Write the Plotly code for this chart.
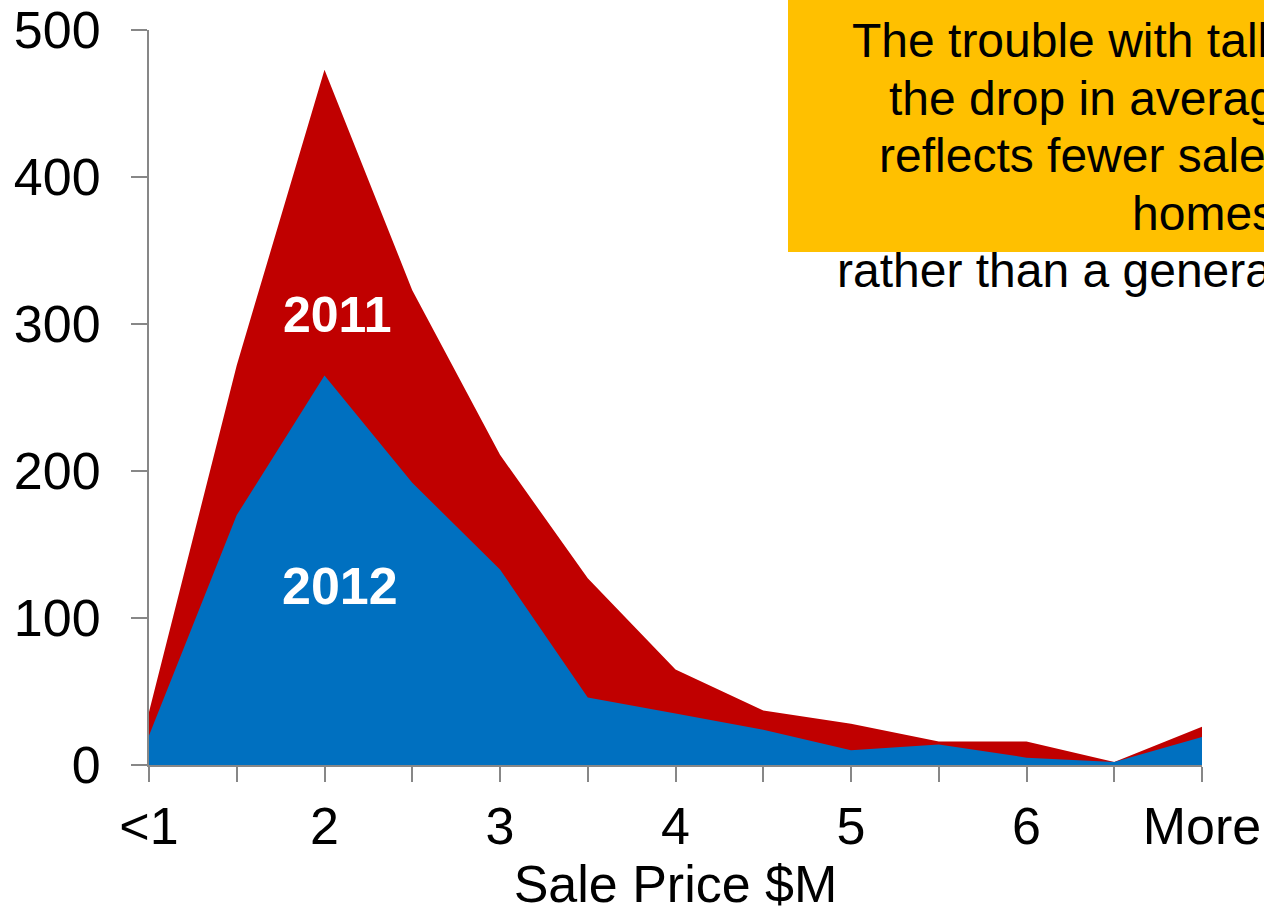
import plotly.graph_objects as go

categories = ["<1", "", "2", "", "3", "", "4", "", "5", "", "6", "", "More"]
sales_2011 = [36, 272, 473, 323, 211, 127, 65, 37, 28, 16, 16, 2, 26]
sales_2012 = [20, 170, 265, 192, 133, 46, 35, 24, 10, 14, 5, 2, 19]
y_ticks = [0, 100, 200, 300, 400, 500]
note_lines = [
    "The trouble with talking about averages:",
    "the drop in average prices",
    "reflects fewer sales of high-end",
    "homes",
    "rather than a general decline",
]

W, H = 1264, 913
L, R, T, B = 149, 1202, 30, 765
FONT = "Liberation Sans, Arial, sans-serif"
AXIS = "#878787"

xs = list(range(len(categories)))

fig = go.Figure()
fig.add_trace(go.Scatter(x=xs, y=sales_2011, mode="lines", fill="tozeroy",
                         fillcolor="#C00000", line=dict(width=0, color="#C00000"),
                         name="2011", hoverinfo="skip"))
fig.add_trace(go.Scatter(x=xs, y=sales_2012, mode="lines", fill="tozeroy",
                         fillcolor="#0070C0", line=dict(width=0, color="#0070C0"),
                         name="2012", hoverinfo="skip"))

def px_x(p):
    return (p - L) / (R - L)

def px_y(p):
    return (B - p) / (B - T)

fig.add_shape(type="rect", xref="paper", yref="paper",
              x0=px_x(788), x1=px_x(1320), y0=px_y(252), y1=px_y(-10),
              fillcolor="#FFC000", line=dict(width=0), layer="above")

starts = [850, 887, 877, 1130, 835]
baselines = [57, 115, 172, 230, 287]
fs = 48
for txt, sx, bl in zip(note_lines, starts, baselines):
    fig.add_annotation(text=txt, xref="paper", yref="paper",
                       x=px_x(sx), y=px_y(bl - 0.35 * fs), xanchor="left", yanchor="middle",
                       showarrow=False, font=dict(family=FONT, size=fs, color="black"))

fig.add_annotation(text="<b>2011</b>", x=2.14, y=306, showarrow=False,
                   font=dict(family=FONT, size=50, color="white"))
fig.add_annotation(text="<b>2012</b>", x=2.18, y=122, showarrow=False,
                   font=dict(family=FONT, size=52, color="white"))

fig.update_layout(
    width=W, height=H,
    margin=dict(l=L, r=W - R, t=T, b=H - B, autoexpand=False),
    paper_bgcolor="white", plot_bgcolor="white",
    showlegend=False,
    font=dict(family=FONT, color="black"),
)
fig.update_xaxes(
    range=[0, 12], tickmode="array", tickvals=xs, ticktext=categories,
    showline=True, linecolor=AXIS, linewidth=2,
    ticks="outside", ticklen=15, tickwidth=2, tickcolor=AXIS,
    tickfont=dict(family=FONT, size=52, color="black"),
    ticklabelstandoff=0, automargin=False,
    showgrid=False, zeroline=False,
    title=dict(text="Sale Price $M", font=dict(family=FONT, size=52, color="black"), standoff=12),
)
fig.update_yaxes(
    range=[0, 500], tickmode="array", tickvals=y_ticks,
    showline=True, linecolor=AXIS, linewidth=2,
    ticks="outside", ticklen=16, tickwidth=2, tickcolor=AXIS,
    tickfont=dict(family=FONT, size=52, color="black"),
    ticklabelstandoff=20, automargin=False,
    showgrid=False, zeroline=False,
)

fig.write_html("out.html")
